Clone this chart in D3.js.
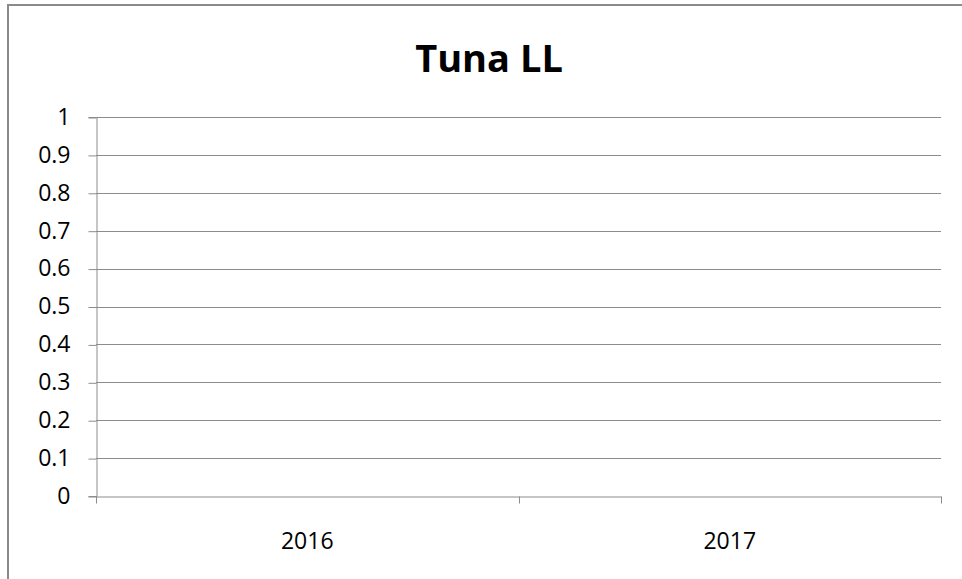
<!DOCTYPE html>
<html>
<head>
<meta charset="utf-8">
<script src="https://cdn.jsdelivr.net/npm/d3@7"></script>
<style>
  body { margin: 0; background: #fff; }
  text { font-family: 'Open Sans', sans-serif; fill: #000; }
</style>
</head>
<body>
<div id="chart"></div>
<script>
// chart data (the source chart has no plotted series)
const title = 'Tuna LL';
const categories = ['2016', '2017'];
const yTicks = [0, 0.1, 0.2, 0.3, 0.4, 0.5, 0.6, 0.7, 0.8, 0.9, 1];
const yDomain = [0, 1];

const width = 962;
const height = 579;
const margins = {left: 96, top: 117, right: 21, bottom: 83};

const svg = d3.select('#chart')
  .append('svg')
  .attr('width', width)
  .attr('height', height);

// outer chart frame, runs past the right and bottom edges like the original
svg.append('rect')
  .attr('x', 8)
  .attr('y', 5)
  .attr('width', 1000)
  .attr('height', 1000)
  .attr('fill', 'none')
  .attr('stroke', '#8a8a8a')
  .attr('stroke-width', 2);

svg.append('text')
  .attr('x', 489)
  .attr('y', 72)
  .attr('text-anchor', 'middle')
  .style('font-size', '38px')
  .style('font-weight', 'bold')
  .text(title);

const innerW = width - margins.left - margins.right;
const innerH = height - margins.top - margins.bottom;

const g = svg.append('g')
  .attr('transform', `translate(${margins.left},${margins.top})`);

const x = d3.scaleBand().domain(categories).range([0, innerW]);
const y = d3.scaleLinear().domain(yDomain).range([innerH, 0]);

// horizontal gridlines
g.append('g')
  .selectAll('line')
  .data(yTicks.filter((d) => d > 0))
  .join('line')
  .attr('x1', 0)
  .attr('x2', innerW)
  .attr('y1', (d) => Math.round(y(d)) + 0.5)
  .attr('y2', (d) => Math.round(y(d)) + 0.5)
  .attr('stroke', '#8c8c8c')
  .attr('stroke-width', 1);

// y axis
const yAxis = g.append('g')
  .attr('transform', 'translate(0.5,0)')
  .call(d3.axisLeft(y).tickValues(yTicks).tickSize(8).tickPadding(18)
    .tickFormat((d) => String(d)));
yAxis.selectAll('.tick line').attr('transform', 'translate(0,0.5)');

// x axis, ticks at category boundaries
const xAxis = g.append('g')
  .attr('transform', `translate(0,${Math.round(innerH) + 0.5})`)
  .call(d3.axisBottom(x).tickSize(0).tickPadding(36));
xAxis.selectAll('.tick text').attr('dy', '0.71em');

xAxis.selectAll('.boundary')
  .data([0, ...categories.map((c) => x(c) + x.bandwidth())])
  .join('line')
  .attr('class', 'boundary')
  .attr('x1', (d) => Math.round(d) + 0.5)
  .attr('x2', (d) => Math.round(d) + 0.5)
  .attr('y1', 0)
  .attr('y2', 7)
  .attr('stroke', '#8c8c8c');

svg.selectAll('.domain, .tick line').attr('stroke', '#8c8c8c');
svg.selectAll('.tick text').style('font-size', '23px').attr('fill', '#111');
</script>
</body>
</html>
